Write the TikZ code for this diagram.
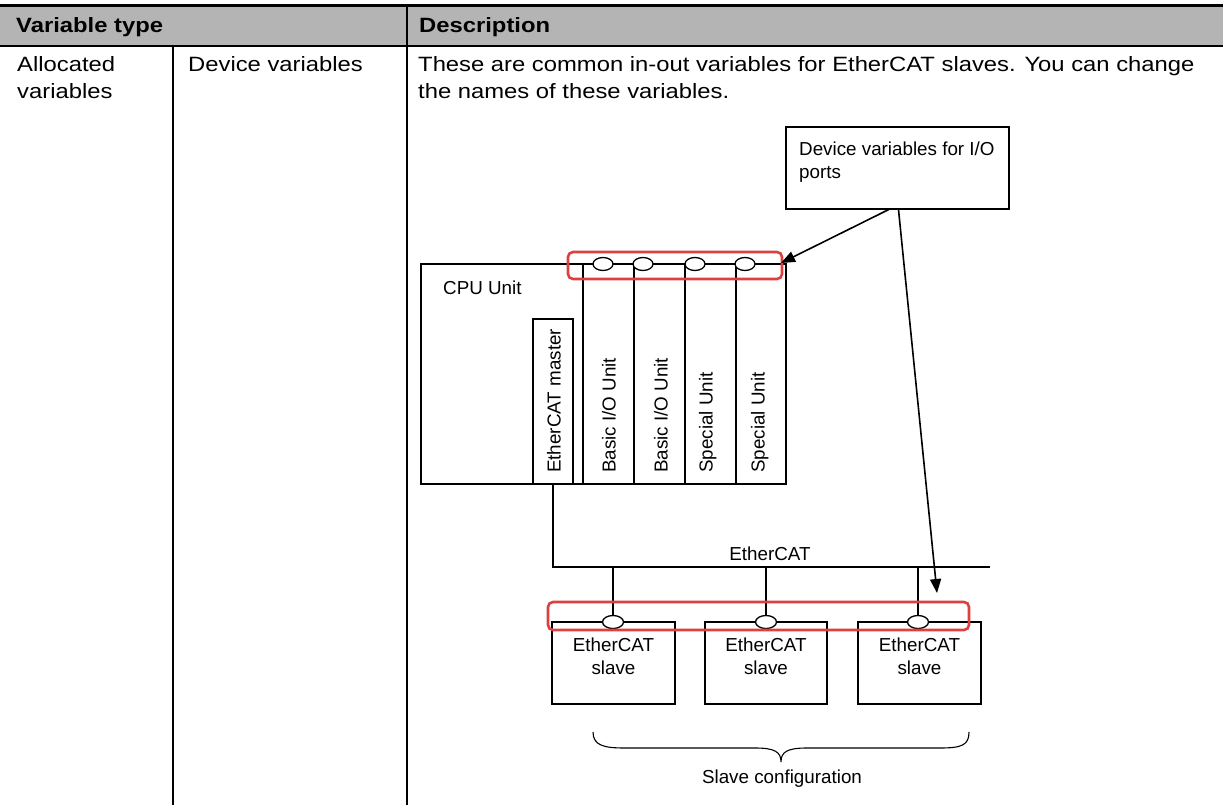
\documentclass[tikz,border=0pt]{standalone}
\usepackage{fontspec}
\setmainfont{Liberation Sans}
\newfontfamily\widesans[FakeStretch=1.15]{Liberation Sans}
\usetikzlibrary{arrows.meta,shapes.geometric}
\definecolor{hdrgrey}{RGB}{180,180,180}
\definecolor{tred}{RGB}{222,64,64}
\begin{document}
\begin{tikzpicture}[x=1pt,y=-1pt,
  tbl/.style={line width=2.4pt},
  body/.style={font=\widesans\fontsize{20.7}{27}\selectfont, inner sep=0pt, anchor=base west},
  hdr/.style={font=\widesans\fontsize{20.7}{27}\selectfont\bfseries, inner sep=0pt, anchor=base west},
  dtxt/.style={font=\fontsize{18.8}{23}\selectfont, inner sep=0pt},
  ln/.style={line width=1.3pt},
  unitbox/.style={ln, draw, rectangle, inner sep=0pt},
  port/.style={ln, draw, fill=white, ellipse, inner sep=0pt, minimum width=20pt, minimum height=13pt},
  redbox/.style={draw=tred, line width=2.6pt, rounded corners=5pt},
  arr/.style={line width=1.6pt, -{Triangle[length=14pt,width=11pt]}},
  vlab/.style={dtxt, rotate=90, anchor=mid west}
]
\useasboundingbox (0,0) rectangle (1223,805);
% ---------- table ----------
\fill[hdrgrey] (0,6) rectangle (1223,46);
\draw[line width=3pt] (0,5.5) coordinate (tl) -- (1223,5.5) coordinate (tr);
\draw[line width=2.2pt] (0,46) coordinate (hl) -- (1223,46) coordinate (hr);
\draw[tbl] (173,46) coordinate (c1t) -- (173,805) coordinate (c1b);
\draw[tbl] (407,6) coordinate (c2t) -- (407,805) coordinate (c2b);
\node[hdr] (h1) at (16,33) {Variable type};
\node[hdr] (h2) at (419,33) {Description};
\node[body] (r1a) at (17,72) {Allocated};
\node[body] (r1b) at (17,99) {variables};
\node[body] (r2) at (188,72) {Device variables};
\node[body] (d1) at (418,72) {These are common in-out variables for EtherCAT slaves. You can change};
\node[body] (d2) at (418,99) {the names of these variables.};
% ---------- diagram ----------
% device variables box
\node[unitbox, minimum width=223pt, minimum height=82pt] (dv) at (897.5,168) {};
\node[dtxt, anchor=base west] (dvt1) at (799,156) {Device variables for I/O};
\node[dtxt, anchor=base west] (dvt2) at (799,179) {ports};
% CPU unit and I/O units
\node[unitbox, minimum width=162pt, minimum height=220pt] (cpu) at (502,374) {};
\node[dtxt, anchor=base west] (cput) at (443,294) {CPU Unit};
\node[unitbox, minimum width=40pt, minimum height=165pt] (m) at (553,401.5) {};
\node[unitbox, minimum width=51pt, minimum height=220pt] (u1) at (608.5,374) {};
\node[unitbox, minimum width=51pt, minimum height=220pt] (u2) at (659.5,374) {};
\node[unitbox, minimum width=51pt, minimum height=220pt] (u3) at (710.5,374) {};
\node[unitbox, minimum width=50pt, minimum height=220pt] (u4) at (761,374) {};
\node[vlab] (mt) at (558,473) {EtherCAT master};
\node[vlab] (u1t) at (613,473) {Basic I/O Unit};
\node[vlab] (u2t) at (665,473) {Basic I/O Unit};
\node[vlab] (u3t) at (710,473) {Special Unit};
\node[vlab] (u4t) at (762,473) {Special Unit};
\node[port] (p1) at (603,264) {};
\node[port] (p2) at (643,264) {};
\node[port] (p3) at (695,264) {};
\node[port] (p4) at (745,264) {};
% EtherCAT bus
\coordinate (busend) at (990,567);
\draw[ln] (m.south) |- (busend);
\node[dtxt, anchor=base] (ecl) at (770,560) {EtherCAT};
% slaves
\node[unitbox, minimum width=123pt, minimum height=82pt] (s1) at (613.5,663) {};
\node[unitbox, minimum width=122pt, minimum height=82pt] (s2) at (766,663) {};
\node[unitbox, minimum width=123pt, minimum height=82pt] (s3) at (919.5,663) {};
\foreach \s in {s1,s2,s3}{
  \node[dtxt, anchor=base] (\s t1) at ([yshift=-30pt]\s.north) {EtherCAT};
  \node[dtxt, anchor=base] (\s t2) at ([yshift=-53pt]\s.north) {slave};
}
\node[port, minimum width=21pt] (q1) at (613,622) {};
\node[port, minimum width=21pt] (q2) at (766,622) {};
\node[port, minimum width=21pt] (q3) at (918,622) {};
\draw[ln] (q1.north) -- (q1.north |- busend);
\draw[ln] (q2.north) -- (q2.north |- busend);
\draw[ln] (q3.north) -- (q3.north |- busend);
% red highlight boxes
\draw[redbox] (568,252) rectangle (782,279);
\draw[redbox] (548,602) rectangle (969,630);
% arrows
\coordinate (a1) at (781,263);
\coordinate (a2) at (937,593);
\draw[arr] ([xshift=-9pt]dv.south) -- (a1);
\draw[arr] ([xshift=1pt]dv.south) -- (a2);
% brace
\draw[ln, line width=1.1pt] (593,732) .. controls (593,746) and (605,748) .. (625,748)
  -- (755,748) .. controls (775,748) and (781,752) .. (781,762)
  .. controls (781,752) and (787,748) .. (807,748)
  -- (940,748) .. controls (962,748) and (969,745) .. (969,732);
\node[dtxt, anchor=base] (sc) at (782,783) {Slave configuration};
\end{tikzpicture}
\end{document}
